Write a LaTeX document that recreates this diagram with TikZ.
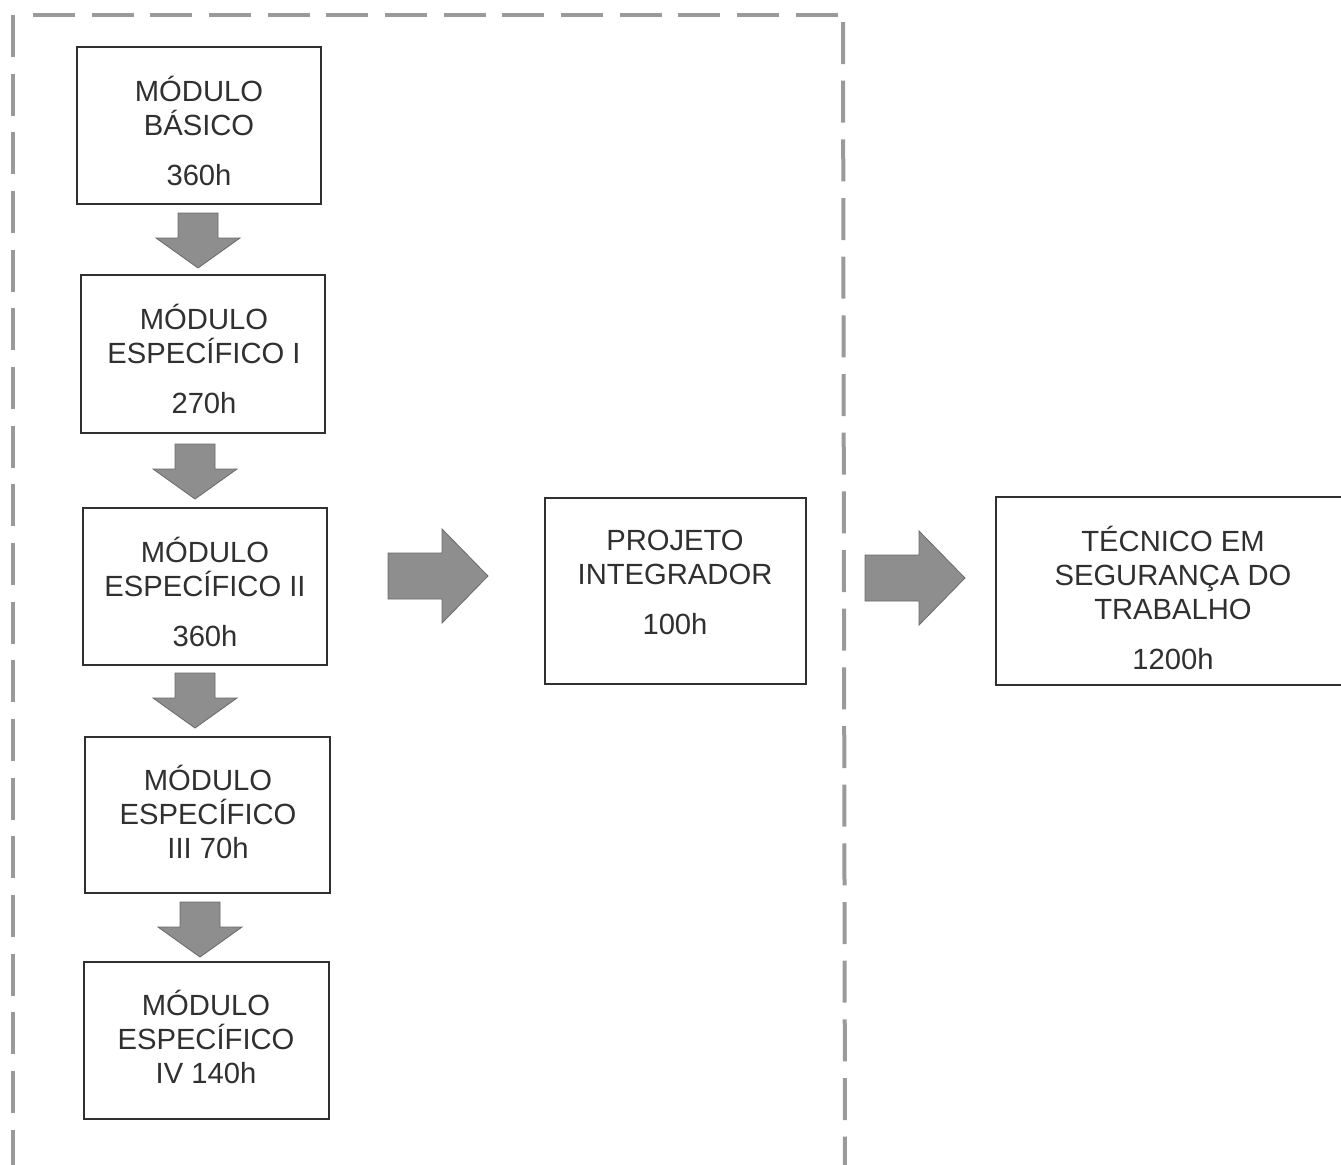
\documentclass[tikz,border=0pt]{standalone}
\usepackage{fontspec}
\setmainfont{Liberation Sans}
\usetikzlibrary{fit}
\definecolor{ink}{HTML}{303030}
\definecolor{arrfill}{HTML}{8E8E8E}
\definecolor{arredge}{HTML}{6A6A6A}
\definecolor{dashgray}{HTML}{9A9A9A}
\tikzset{
  box/.style={draw=ink,line width=1pt,inner sep=0pt},
  lbl/.style={text=ink,align=center,font=\fontsize{21.9pt}{25.5pt}\selectfont,inner sep=0pt},
  frame/.style={draw=dashgray,line width=3pt,dash pattern=on 31.5pt off 12.5pt},
  blk/.style={fill=arrfill,draw=arredge,line width=0.6pt,line join=miter},
  downblk/.pic={\path[blk] (-20,-55) -- (20,-55) -- (20,-30) -- (42,-30) -- (0,0) -- (-42,-30) -- (-20,-30) -- cycle;},
  rightblk/.pic={\path[blk] (-100,-23) -- (-46,-23) -- (-46,-47) -- (0,0) -- (-46,47) -- (-46,23) -- (-100,23) -- cycle;}
}
\begin{document}
\begin{tikzpicture}[x=0.75pt,y=-0.75pt]
\clip (0,0) rectangle (1341,1164);
\fill[white] (0,0) rectangle (1341,1164);
% dashed frame
\coordinate (fa) at (13,15);
\coordinate (fb) at (13,1175);
\coordinate (fc) at (33,15);
\coordinate (fd) at (840,15);
\coordinate (fe) at (843,22);
\coordinate (ff) at (845,1175);
\draw[frame] (fa) -- (fb);
\draw[frame] (fc) -- (fd);
\draw[frame] (fe) -- (ff);
% boxes
\node[box,fit={(77,47) (321,204)}] (b1) {};
\node[box,fit={(81,275) (325,433)}] (b2) {};
\node[box,fit={(83,508) (327,665)}] (b3) {};
\node[box,fit={(85,737) (330,893)}] (b4) {};
\node[box,fit={(84,962) (329,1119)}] (b5) {};
\node[box,fit={(545,498) (806,684)}] (pi) {};
\node[box,fit={(996,497) (1370,685)}] (tec) {};
% labels
\node[lbl] (t1) at (199,131) {MÓDULO\\BÁSICO\\[12pt]360h};
\node[lbl] (t2) at (204,358.5) {MÓDULO\\ESPECÍFICO I\\[12pt]270h};
\node[lbl] (t3) at (205,592) {MÓDULO\\ESPECÍFICO II\\[12pt]360h};
\node[lbl] (t4) at (208,812) {MÓDULO\\ESPECÍFICO\\III 70h};
\node[lbl] (t5) at (206,1037) {MÓDULO\\ESPECÍFICO\\IV 140h};
\node[lbl] (tp) at (675,582) {PROJETO\\INTEGRADOR\\[12pt]100h};
\node[lbl] (tt) at (1173,597.5) {TÉCNICO EM\\SEGURANÇA DO\\TRABALHO\\[12pt]1200h};
% block arrows
\pic at (198,268) {downblk};
\pic at (195,499) {downblk};
\pic at (195,728) {downblk};
\pic at (200,957) {downblk};
\pic at (488,576) {rightblk};
\pic at (965,578) {rightblk};
\end{tikzpicture}
\end{document}
